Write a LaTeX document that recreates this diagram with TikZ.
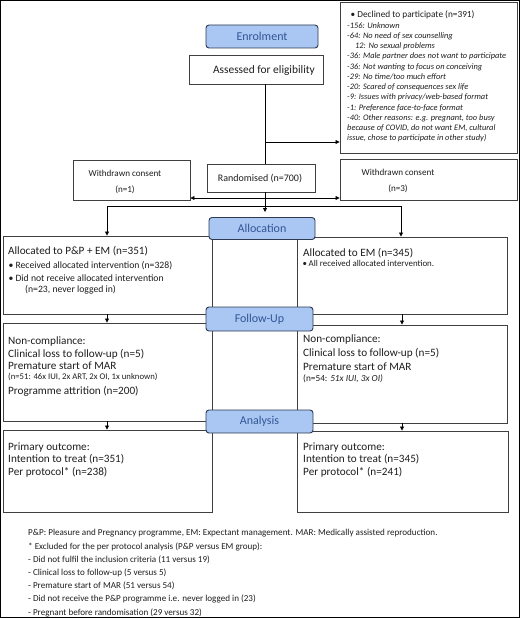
\documentclass[tikz,border=0pt]{standalone}
\usepackage{fontspec}
\setmainfont{Carlito}
\usetikzlibrary{arrows.meta}
\definecolor{boxc}{RGB}{64,64,64}
\definecolor{phfill}{RGB}{170,198,242}
\definecolor{phdraw}{RGB}{45,58,82}
\definecolor{phtext}{RGB}{50,85,150}
\definecolor{txtc}{RGB}{30,30,30}
\begin{document}
\begin{tikzpicture}[x=1pt,y=-1pt,
  boxnode/.style={draw=boxc,line width=0.9pt,inner sep=0pt,fill=white},
  phase/.style={draw=phdraw,fill=phfill,line width=0.9pt,rounded corners=3pt,inner sep=0pt,text=phtext,font=\fontsize{12}{14}\selectfont},
  lbl/.style={anchor=base west,inner sep=0pt,text=txtc},
  ctr/.style={anchor=base,inner sep=0pt,text=txtc},
  fA/.style={font=\fontsize{11.2}{13}\selectfont},
  fAs/.style={font=\fontsize{11.4}{13}\selectfont},
  fR/.style={font=\fontsize{10}{12}\selectfont},
  fW/.style={font=\fontsize{9.1}{11}\selectfont},
  fB/.style={font=\fontsize{9.7}{11}\selectfont},
  fT/.style={font=\fontsize{9.3}{11}\selectfont},
  fC/.style={font=\itshape\fontsize{8.4}{10}\selectfont},
  fD/.style={font=\fontsize{8.7}{10}\selectfont},
  fD2/.style={font=\fontsize{9.3}{10}\selectfont},
  fE/.style={font=\fontsize{8.9}{10}\selectfont},
  fF/.style={font=\fontsize{9.1}{11}\selectfont},
  conn/.style={draw=black,line width=0.8pt},
  arr/.style={conn,-{Triangle[length=4pt,width=4pt]}},
]
\useasboundingbox (0,0) rectangle (520,618);
\draw[line width=1pt] (0.5,0.5) rectangle (519.5,617.5);

% ---------- boxes ----------
\node[boxnode,minimum width=177,minimum height=151] (decl) at (428.5,77.5) {};
\node[boxnode,minimum width=134,minimum height=29] (assess) at (256,69.5) {};
\node[boxnode,minimum width=108,minimum height=28] (rand) at (261,178) {};
\node[boxnode,minimum width=117,minimum height=40] (w1) at (131.5,180) {};
\node[boxnode,minimum width=177,minimum height=41] (w3) at (428.5,179.5) {};

\node[boxnode,minimum width=209,minimum height=78] (a1) at (107.5,275) {};
\node[boxnode,minimum width=210,minimum height=77] (a2) at (402,275.5) {};
\node[boxnode,minimum width=209,minimum height=98] (f1) at (107.5,372) {};
\node[boxnode,minimum width=210,minimum height=98] (f2) at (402,374) {};
\node[boxnode,minimum width=209,minimum height=82] (n1) at (107.5,471) {};
\node[boxnode,minimum width=211,minimum height=81] (n2) at (402.5,471.5) {};

% ---------- connectors ----------
\coordinate (v1) at (265,142);
\draw[conn] (assess.south -| v1) -- (rand.north -| v1);
\draw[arr] (v1) -- (v1 -| decl.west);
\coordinate (h1) at (265,198);
\draw[arr] (h1) -- (h1 -| w1.east);
\draw[arr] (h1) -- (h1 -| w3.west);
\coordinate (v2) at (265,212);
\draw[arr] (rand.south -| v2) -- (v2);
\coordinate (hL) at (107,206);
\coordinate (hR) at (401,206);
\draw[conn] (hL) -- (hR);
\draw[arr] (hL) -- (hL |- a1.north);
\draw[arr] (hR) -- (hR |- a2.north);
\coordinate (cL) at (107,0);
\coordinate (cR) at (402,0);
\draw[arr] (a1.south -| cL) -- (f1.north -| cL);
\draw[arr] (a2.south -| cR) -- (f2.north -| cR);
\draw[arr] (f1.south -| cL) -- (n1.north -| cL);
\draw[arr] (f2.south -| cR) -- (n2.north -| cR);

% ---------- phase boxes ----------
\node[phase,minimum width=112,minimum height=23] (enrol) at (262,36.5) {Enrolment};
\node[phase,minimum width=106,minimum height=22] (alloc) at (262,228.5) {Allocation};
\node[phase,minimum width=107,minimum height=24] (follow) at (259.5,319) {Follow-Up};
\node[phase,minimum width=107,minimum height=23] (analysis) at (259.5,421.5) {Analysis};

% ---------- texts ----------
\node[ctr,fAs] (t-assess) at (264,73.6) {Assessed for eligibility};
\node[ctr,fR] (t-rand) at (260,181.2) {Randomised (n=700)};
\node[ctr,fW] (t-w1a) at (125,176) {Withdrawn consent};
\node[ctr,fW] (t-w1b) at (125,192) {(n=1)};
\node[ctr,fW] (t-w3a) at (398,175) {Withdrawn consent};
\node[ctr,fW] (t-w3b) at (398,191) {(n=3)};

\node[lbl,fT] (d0) at (350.5,18) {•\hspace{2pt}Declined to participate (n=391)};
\node[lbl,fC] (d1) at (347,28.4) {-156: Unknown};
\node[lbl,fC] (d2) at (347,38.6) {-64: No need of sex counselling};
\node[lbl,fC] (d3) at (355,48.8) {12: No sexual problems};
\node[lbl,fC] (d4) at (347,59) {-36: Male partner does not want to participate};
\node[lbl,fC] (d5) at (347,69.2) {-36: Not wanting to focus on conceiving};
\node[lbl,fC] (d6) at (347,79.4) {-29: No time/too much effort};
\node[lbl,fC] (d7) at (347,89.6) {-20: Scared of consequences sex life};
\node[lbl,fC] (d8) at (347,99.8) {-9: Issues with privacy/web-based format};
\node[lbl,fC] (d9) at (347,110) {-1: Preference face-to-face format};
\node[lbl,fC] (d10) at (347,120.2) {-40: Other reasons: e.g. pregnant, too busy};
\node[lbl,fC] (d11) at (347,130.4) {because of COVID, do not want EM, cultural};
\node[lbl,fC] (d12) at (347,140.6) {issue, chose to participate in other study)};

\node[lbl,fA] (l1) at (8,254.6) {Allocated to P\&P + EM (n=351)};
\node[lbl,fB] (l2) at (8.5,268) {•\hspace{2pt}Received allocated intervention (n=328)};
\node[lbl,fB] (l3) at (8.5,281) {•\hspace{2pt}Did not receive allocated intervention};
\node[lbl,fB] (l4) at (25,292) {(n=23, never logged in)};

\node[lbl,fA] (r1) at (303,256.6) {Allocated to EM (n=345)};
\node[lbl,fE] (r2) at (302.5,266.8) {•\hspace{1.5pt}All received allocated intervention.};

\node[lbl,fA] (l5) at (8,344.6) {Non-compliance:};
\node[lbl,fA] (l6) at (8,357.6) {Clinical loss to follow-up (n=5)};
\node[lbl,fA] (l7) at (8,369.6) {Premature start of MAR};
\node[lbl,fD] (l8) at (8,379.3) {(n=51: 46x IUI, 2x ART, 2x OI, 1x unknown)};
\node[lbl,fA] (l9) at (8,394.6) {Programme attrition (n=200)};

\node[lbl,fA] (r5) at (303,342.6) {Non-compliance:};
\node[lbl,fA] (r6) at (303,356.6) {Clinical loss to follow-up (n=5)};
\node[lbl,fA] (r7) at (303,370.6) {Premature start of MAR};
\node[lbl,fD2] (r8) at (303,381) {(n=54: \textit{51x IUI, 3x OI)}};

\node[lbl,fA] (l10) at (8,450.6) {Primary outcome:};
\node[lbl,fA] (l11) at (8,462.6) {Intention to treat (n=351)};
\node[lbl,fA] (l12) at (8,475.6) {Per protocol* (n=238)};

\node[lbl,fA] (r10) at (303,450.6) {Primary outcome:};
\node[lbl,fA] (r11) at (303,462.6) {Intention to treat (n=345)};
\node[lbl,fA] (r12) at (303,475.6) {Per protocol* (n=241)};

\node[lbl,fF] (f1t) at (28,535) {P\&P: Pleasure and Pregnancy programme, EM: Expectant management. MAR: Medically assisted reproduction.};
\node[lbl,fF] (f2t) at (28,549) {* Excluded for the per protocol analysis (P\&P versus EM group):};
\node[lbl,fF] (f3t) at (28,562) {- Did not fulfil the inclusion criteria (11 versus 19)};
\node[lbl,fF] (f4t) at (28,575) {- Clinical loss to follow-up (5 versus 5)};
\node[lbl,fF] (f5t) at (28,588) {- Premature start of MAR (51 versus 54)};
\node[lbl,fF] (f6t) at (28,601) {- Did not receive the P\&P programme i.e. never logged in (23)};
\node[lbl,fF] (f7t) at (28,615) {- Pregnant before randomisation (29 versus 32)};
\end{tikzpicture}
\end{document}
